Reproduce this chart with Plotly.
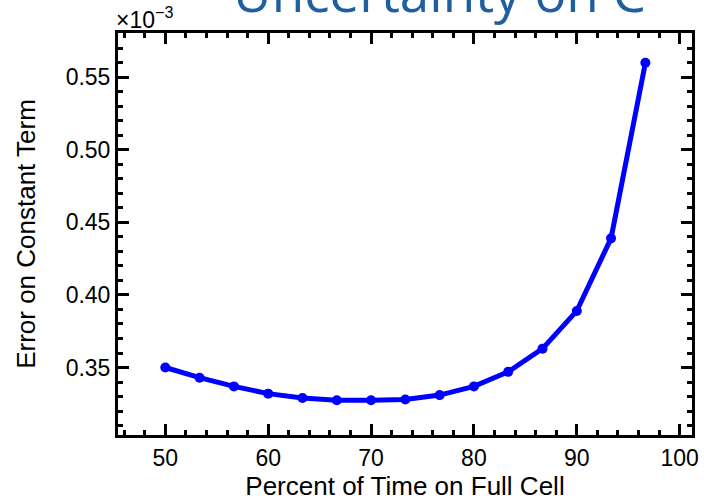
import plotly.graph_objects as go

# Data (Error values in units of 1e-3)
percent_full = [50, 53.33, 56.67, 60, 63.33, 66.67, 70, 73.33, 76.67, 80, 83.33, 86.67, 90, 93.33, 96.67]
error_const = [0.350, 0.343, 0.337, 0.332, 0.329, 0.3275, 0.3275, 0.328, 0.331, 0.337, 0.347, 0.363, 0.389, 0.439, 0.560]

x_ticks = [50, 60, 70, 80, 90, 100]
y_ticks = [0.35, 0.40, 0.45, 0.50, 0.55]
y_ticklabels = ["0.35", "0.40", "0.45", "0.50", "0.55"]

title_text = "Uncertainty on C"
x_title = "Percent of Time on Full Cell"
y_title = "Error on Constant Term"

FONT = "Liberation Sans, Arial, sans-serif"

fig = go.Figure()
fig.add_trace(go.Scatter(
    x=percent_full, y=error_const, mode="lines+markers",
    line=dict(color="rgb(0,0,255)", width=5),
    marker=dict(color="rgb(0,0,255)", size=10),
    showlegend=False,
))

axis_common = dict(
    showline=True, linecolor="black", linewidth=3, mirror="allticks",
    ticks="inside", tickcolor="black", tickwidth=3, ticklen=11,
    showgrid=False, zeroline=False,
    tickfont=dict(family=FONT, size=23, color="black"),
)

fig.update_xaxes(
    **axis_common,
    range=[45.4, 101.2], tickvals=x_ticks,
    minor=dict(ticks="inside", dtick=2, tick0=0, ticklen=5, tickwidth=3, tickcolor="black", showgrid=False),
    title=dict(text=x_title, font=dict(family=FONT, size=26, color="black"), standoff=3),
)
fig.update_yaxes(
    **axis_common,
    range=[0.3035, 0.5805], tickvals=y_ticks, ticktext=y_ticklabels,
    minor=dict(ticks="inside", dtick=0.01, tick0=0, ticklen=5, tickwidth=3, tickcolor="black", showgrid=False),
    title=dict(text=y_title, font=dict(family=FONT, size=26, color="black"), standoff=23),
)

fig.add_annotation(
    text="×10<sup>−3</sup>", xref="paper", yref="paper", x=0, y=1.0,
    xanchor="left", yanchor="bottom", showarrow=False, xshift=-4, yshift=-2,
    font=dict(family=FONT, size=23, color="black"),
)
fig.add_annotation(
    text=title_text, xref="paper", yref="paper", x=0.56, y=1.0,
    xanchor="center", yanchor="bottom", showarrow=False, yshift=3,
    font=dict(family="Open Sans, sans-serif", size=53, color="rgb(31,95,160)"),
)

fig.update_layout(
    width=704, height=502,
    margin=dict(l=118, r=5, t=33, b=67),
    paper_bgcolor="white", plot_bgcolor="white",
)

fig.write_html("out.html")
